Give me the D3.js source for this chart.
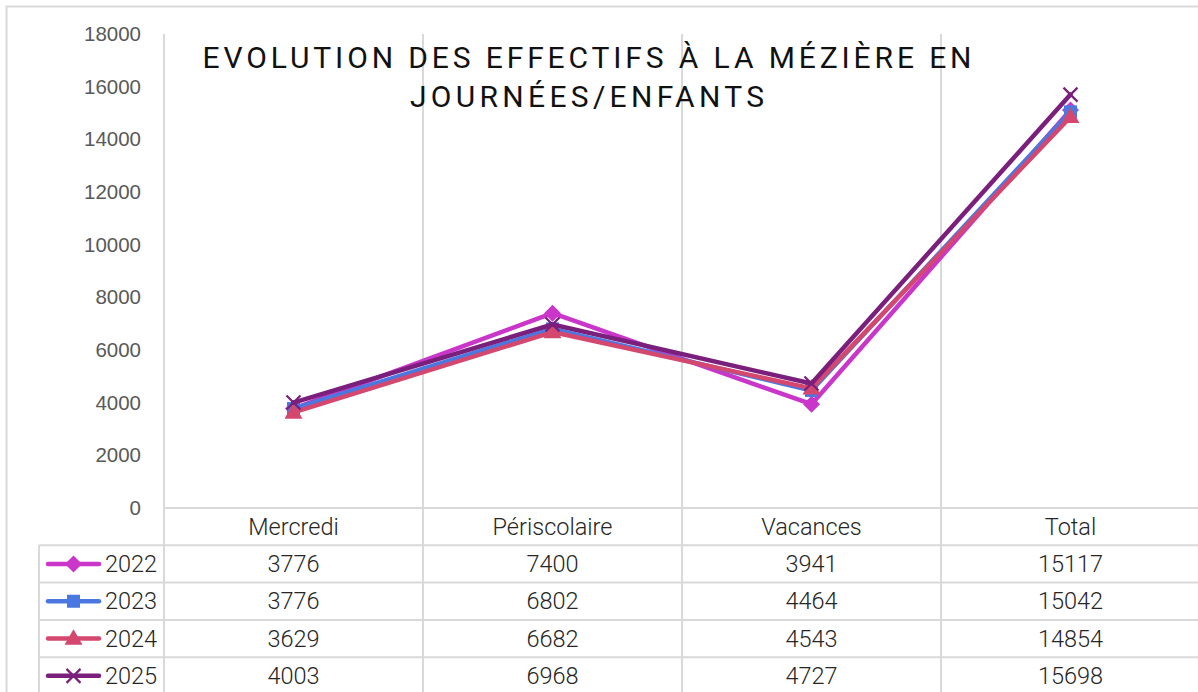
<!DOCTYPE html>
<html>
<head>
<meta charset="utf-8">
<script src="https://cdn.jsdelivr.net/npm/d3@7"></script>
<style>
  body { margin: 0; background: #fff; }
  svg { display: block; }
</style>
</head>
<body>
<svg id="chart" width="1198" height="692"></svg>
<script>
// chart data
const categories = ["Mercredi", "Périscolaire", "Vacances", "Total"];
const years = ["2022", "2023", "2024", "2025"];
const values2022 = [3776, 7400, 3941, 15117];
const values2023 = [3776, 6802, 4464, 15042];
const values2024 = [3629, 6682, 4543, 14854];
const values2025 = [4003, 6968, 4727, 15698];
const yTicks = [0, 2000, 4000, 6000, 8000, 10000, 12000, 14000, 16000, 18000];
const titleLines = ["EVOLUTION DES EFFECTIFS À LA MÉZIÈRE EN", "JOURNÉES/ENFANTS"];

const series = [
  { name: years[0], values: values2022, color: "#c936c9", marker: "diamond" },
  { name: years[1], values: values2023, color: "#4b78e0", marker: "square" },
  { name: years[2], values: values2024, color: "#d4486f", marker: "triangle" },
  { name: years[3], values: values2025, color: "#7b1f7d", marker: "cross" }
];

const svg = d3.select("#chart");
const grid = "#d9d9d9";

// layout
const plotLeft = 164, plotRight = 1200, plotTop = 34, plotBottom = 508;
const rowH = 37.3;
const tableTop = plotBottom;
const legendLeft = 39;

const x = d3.scaleBand().domain(categories).range([plotLeft, plotRight]).padding(0);
const y = d3.scaleLinear().domain([0, 18000]).range([plotBottom, plotTop]);

// outer border
svg.append("rect")
  .attr("x", 6.5).attr("y", 6.5)
  .attr("width", 1220).attr("height", 720)
  .attr("fill", "none")
  .attr("stroke", grid)
  .attr("stroke-width", 2);

// vertical lines (axis + category separators), run into the table
const vLines = [plotLeft].concat(categories.slice(1).map(c => x(c)));
svg.append("g").selectAll("line")
  .data(vLines)
  .enter().append("line")
  .attr("x1", d => d).attr("x2", d => d)
  .attr("y1", plotTop).attr("y2", 692)
  .attr("stroke", grid)
  .attr("stroke-width", 2);

// table horizontal lines
const tableRows = d3.range(0, series.length + 2);
svg.append("g").selectAll("line")
  .data(tableRows)
  .enter().append("line")
  .attr("x1", d => d === 0 ? plotLeft : legendLeft)
  .attr("x2", plotRight)
  .attr("y1", d => tableTop + d * rowH)
  .attr("y2", d => tableTop + d * rowH)
  .attr("stroke", grid)
  .attr("stroke-width", 2);

svg.append("line")
  .attr("x1", legendLeft).attr("x2", legendLeft)
  .attr("y1", tableTop + rowH).attr("y2", 692)
  .attr("stroke", grid)
  .attr("stroke-width", 2);

// y axis labels
const yAxis = d3.axisLeft(y).tickValues(yTicks).tickSize(0).tickPadding(0).tickFormat(d3.format("d"));
const yg = svg.append("g")
  .attr("transform", "translate(141,0)")
  .call(yAxis);
yg.select(".domain").remove();
yg.selectAll("text")
  .attr("fill", "#595959")
  .style("font-family", "'Liberation Sans', Arial, sans-serif")
  .style("font-size", "20.5px");

// title
svg.append("g").selectAll("text")
  .data(titleLines)
  .enter().append("text")
  .attr("x", 587)
  .attr("y", (d, i) => 68 + i * 38.5)
  .attr("text-anchor", "middle")
  .attr("textLength", (d, i) => i === 0 ? 769 : 354)
  .attr("lengthAdjust", "spacing")
  .attr("fill", "#111")
  .style("font-family", "Roboto, sans-serif")
  .style("font-size", "30px")
  .text(d => d);

// marker shapes
const markerPath = {
  square: d3.symbol().type(d3.symbolSquare).size(170),
  triangle: d3.symbol().type(d3.symbolTriangle).size(140)
};

function drawMarker(g, s, cx, cy) {
  if (s.marker === "cross") {
    const r = 7;
    g.append("path")
      .attr("d", `M${cx - r},${cy - r}L${cx + r},${cy + r}M${cx - r},${cy + r}L${cx + r},${cy - r}`)
      .attr("stroke", s.color)
      .attr("stroke-width", 2.2)
      .attr("fill", "none");
  } else if (s.marker === "diamond") {
    const r = 8.5;
    g.append("path")
      .attr("d", `M${cx},${cy - r}L${cx + r},${cy}L${cx},${cy + r}L${cx - r},${cy}Z`)
      .attr("fill", s.color);
  } else {
    g.append("path")
      .attr("d", markerPath[s.marker]())
      .attr("transform", `translate(${cx},${cy + (s.marker === "triangle" ? 1 : 0)})`)
      .attr("fill", s.color);
  }
}

// lines
const line = d3.line()
  .x((d, i) => x(categories[i]) + x.bandwidth() / 2)
  .y(d => y(d));

series.forEach(s => {
  const g = svg.append("g");
  g.append("path")
    .datum(s.values)
    .attr("d", line)
    .attr("fill", "none")
    .attr("stroke", s.color)
    .attr("stroke-width", 4.5)
    .attr("stroke-linejoin", "round")
    .attr("stroke-linecap", "round");
  s.values.forEach((v, i) => {
    drawMarker(g, s, x(categories[i]) + x.bandwidth() / 2, y(v));
  });
});

// table header
const textFont = "Roboto, sans-serif";
const textWeight = 300;
const textSize = "23.5px";
svg.append("g").selectAll("text")
  .data(categories)
  .enter().append("text")
  .attr("x", d => x(d) + x.bandwidth() / 2)
  .attr("y", tableTop + rowH / 2)
  .attr("dy", "0.35em")
  .attr("text-anchor", "middle")
  .attr("fill", "#262626")
  .style("font-family", textFont)
  .style("font-weight", textWeight)
  .style("font-size", textSize)
  .text(d => d);

// table rows
series.forEach((s, r) => {
  const cy = tableTop + (r + 1) * rowH + rowH / 2;
  const g = svg.append("g");
  g.append("line")
    .attr("x1", 48).attr("x2", 99)
    .attr("y1", cy).attr("y2", cy)
    .attr("stroke", s.color)
    .attr("stroke-width", 4.5)
    .attr("stroke-linecap", "round");
  drawMarker(g, s, 73.5, cy);
  g.append("text")
    .attr("x", 105)
    .attr("y", cy)
    .attr("dy", "0.35em")
    .attr("fill", "#262626")
    .style("font-family", textFont)
    .style("font-weight", textWeight)
    .style("font-size", textSize)
    .text(s.name);
  g.selectAll("text.val")
    .data(s.values)
    .enter().append("text")
    .attr("class", "val")
    .attr("x", (d, i) => x(categories[i]) + x.bandwidth() / 2)
    .attr("y", cy)
    .attr("dy", "0.35em")
    .attr("text-anchor", "middle")
    .attr("fill", "#262626")
    .style("font-family", textFont)
    .style("font-weight", textWeight)
    .style("font-size", textSize)
    .text(d => d);
});
</script>
</body>
</html>
